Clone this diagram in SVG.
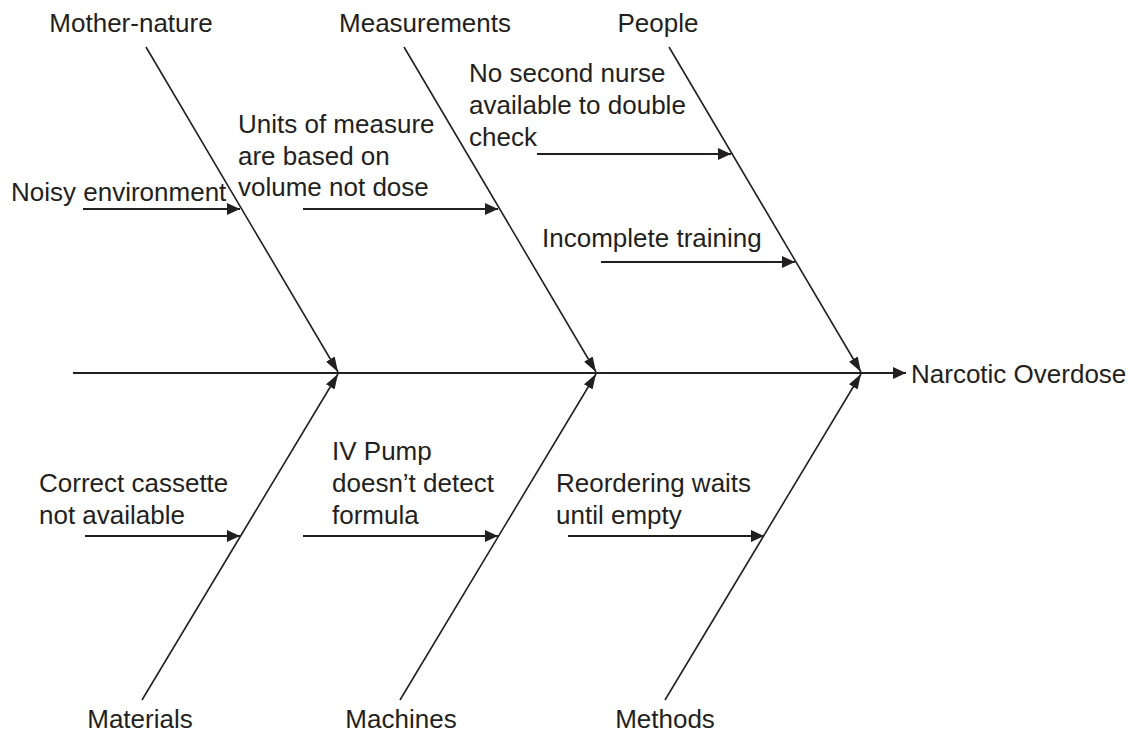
<svg xmlns="http://www.w3.org/2000/svg" width="1128" height="733" viewBox="0 0 1128 733">
  <style>
    text { font-family: "Liberation Sans", Arial, Helvetica, sans-serif; font-size: 26px; fill: #231f20; }
    .mid { text-anchor: middle; }
    .bone { stroke: #231f20; stroke-width: 1.6; fill: none; marker-end: url(#bh); }
    .cause { stroke: #231f20; stroke-width: 2; fill: none; marker-end: url(#ah); }
    .spine { stroke: #231f20; stroke-width: 2; fill: none; }
  </style>
  <defs>
    <marker id="ah" markerUnits="userSpaceOnUse" markerWidth="13" markerHeight="12" viewBox="0 0 13 12" refX="13" refY="6" orient="auto">
      <path d="M0,0 L13,6 L0,12 z" fill="#231f20"/>
    </marker>
    <marker id="bh" markerUnits="userSpaceOnUse" markerWidth="15" markerHeight="10" viewBox="0 0 15 10" refX="15" refY="5" orient="auto">
      <path d="M0,0 L15,5 L0,10 z" fill="#231f20"/>
    </marker>
  </defs>
  <rect width="1128" height="733" fill="#ffffff"/>

  <g id="connectors">
    <line class="spine" x1="73" y1="373" x2="861" y2="373"/>
    <line class="cause" x1="861" y1="373" x2="906" y2="373"/>
    <!-- upper bones -->
    <line class="bone" x1="146" y1="47" x2="338" y2="372"/>
    <line class="bone" x1="404" y1="47" x2="596" y2="372"/>
    <line class="bone" x1="669" y1="47" x2="861" y2="372"/>
    <!-- lower bones -->
    <line class="bone" x1="142" y1="700" x2="338" y2="374"/>
    <line class="bone" x1="400" y1="700" x2="596" y2="374"/>
    <line class="bone" x1="665" y1="700" x2="861" y2="374"/>
    <!-- cause arrows -->
    <line class="cause" x1="83" y1="209" x2="240" y2="209"/>
    <line class="cause" x1="303" y1="209" x2="498" y2="209"/>
    <line class="cause" x1="537" y1="154" x2="731" y2="154"/>
    <line class="cause" x1="601" y1="262" x2="795" y2="262"/>
    <line class="cause" x1="85" y1="536" x2="240" y2="536"/>
    <line class="cause" x1="303" y1="536" x2="498" y2="536"/>
    <line class="cause" x1="568" y1="536" x2="764" y2="536"/>
  </g>

  <g id="effect"><text x="911" y="383">Narcotic Overdose</text></g>

  <g id="cat-mother-nature"><text class="mid" x="131" y="32">Mother-nature</text></g>
  <g id="cat-measurements"><text class="mid" x="425" y="32">Measurements</text></g>
  <g id="cat-people"><text class="mid" x="658" y="32">People</text></g>
  <g id="cat-materials"><text class="mid" x="140" y="728">Materials</text></g>
  <g id="cat-machines"><text class="mid" x="401" y="728">Machines</text></g>
  <g id="cat-methods"><text class="mid" x="665" y="728">Methods</text></g>

  <g id="cause-noisy"><text x="11" y="201">Noisy environment</text></g>
  <g id="cause-units">
    <text x="238" y="133">Units of measure</text>
    <text x="238" y="165">are based on</text>
    <text x="238" y="196">volume not dose</text>
  </g>
  <g id="cause-nurse">
    <text x="469" y="82">No second nurse</text>
    <text x="469" y="114">available to double</text>
    <text x="469" y="146">check</text>
  </g>
  <g id="cause-training"><text x="542" y="247">Incomplete training</text></g>
  <g id="cause-cassette">
    <text x="39" y="492">Correct cassette</text>
    <text x="39" y="524">not available</text>
  </g>
  <g id="cause-pump">
    <text x="332" y="460">IV Pump</text>
    <text x="332" y="492">doesn’t detect</text>
    <text x="332" y="524">formula</text>
  </g>
  <g id="cause-reorder">
    <text x="556" y="492">Reordering waits</text>
    <text x="556" y="524">until empty</text>
  </g>
</svg>
